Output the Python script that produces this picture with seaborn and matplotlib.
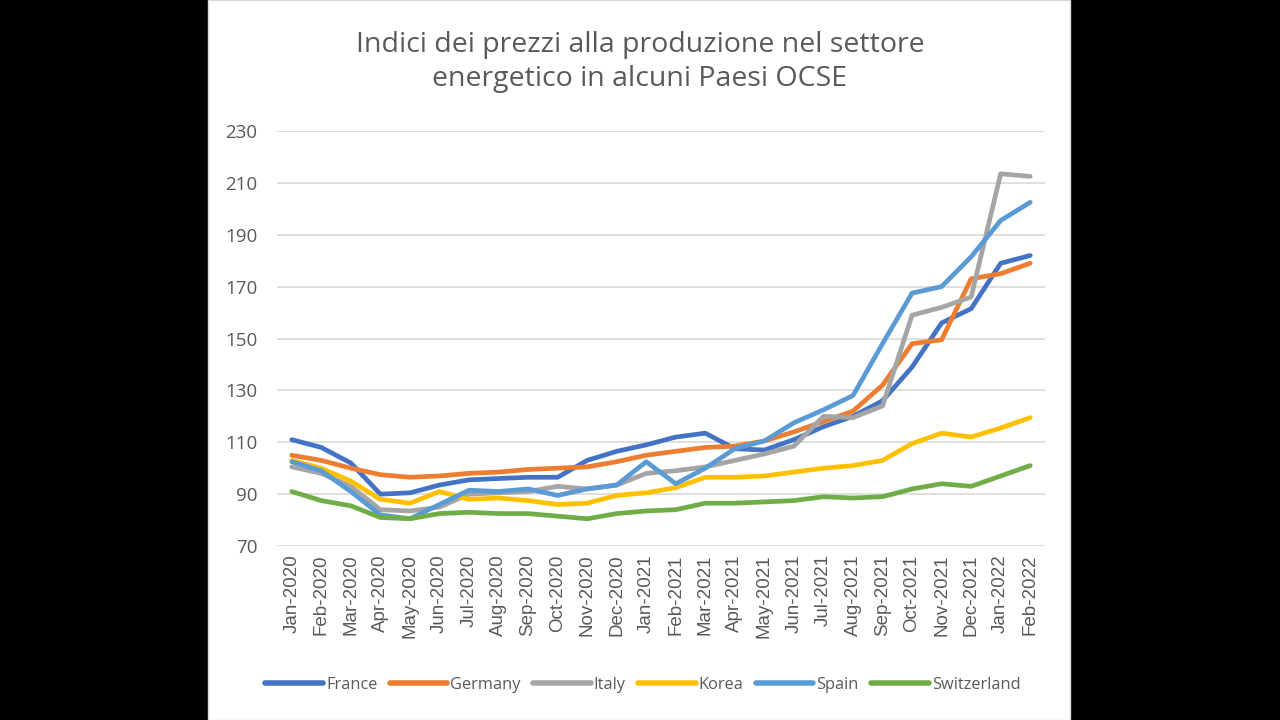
import pandas as pd
import seaborn as sns
import matplotlib.pyplot as plt
from matplotlib.patches import Rectangle

# Monthly labels
months = ['Jan-2020', 'Feb-2020', 'Mar-2020', 'Apr-2020', 'May-2020', 'Jun-2020',
          'Jul-2020', 'Aug-2020', 'Sep-2020', 'Oct-2020', 'Nov-2020', 'Dec-2020',
          'Jan-2021', 'Feb-2021', 'Mar-2021', 'Apr-2021', 'May-2021', 'Jun-2021',
          'Jul-2021', 'Aug-2021', 'Sep-2021', 'Oct-2021', 'Nov-2021', 'Dec-2021',
          'Jan-2022', 'Feb-2022']

# Values
france = [111, 108, 102, 90, 90.5, 93.5, 95.5, 96, 96.5, 96.5, 103, 106.5,
          109, 112, 113.5, 107.5, 107, 111, 116, 120, 126, 139, 156, 161.5, 179, 182]
germany = [105, 103, 100, 97.5, 96.5, 97, 98, 98.5, 99.5, 100, 100.5, 102.5,
           105, 106.5, 108, 108.5, 110.5, 114, 118, 122, 132, 148, 149.5, 173, 175, 179]
italy = [100.5, 98, 93, 84, 83.5, 85, 90, 90.5, 91, 93, 92, 93.5,
         98, 99, 100.5, 103, 105.5, 108.5, 120, 119.5, 124, 159, 162, 166, 213.5, 212.5]
korea = [103, 100, 95, 88, 86.5, 91, 88, 88.5, 87.5, 86, 86.5, 89.5,
         90.5, 92.5, 96.5, 96.5, 97, 98.5, 100, 101, 103, 109.5, 113.5, 112, 115.5, 119.5]
spain = [102.5, 99, 91, 82, 80.5, 86, 91.5, 91, 92, 89.5, 92, 93.5,
         102.5, 94, 100, 107.5, 110.5, 117.5, 122.5, 128, 148, 167.5, 170, 181.5, 195.5, 202.5]
switzerland = [91, 87.5, 85.5, 81, 80.5, 82.5, 83, 82.5, 82.5, 81.5, 80.5, 82.5,
               83.5, 84, 86.5, 86.5, 87, 87.5, 89, 88.5, 89, 92, 94, 93, 97, 101]

countries = ['France', 'Germany', 'Italy', 'Korea', 'Spain', 'Switzerland']
colors = ['#4472C4', '#ED7D31', '#A5A5A5', '#FFC000', '#5B9BD5', '#70AD47']

df = pd.DataFrame({'month': months, 'France': france, 'Germany': germany, 'Italy': italy,
                   'Korea': korea, 'Spain': spain, 'Switzerland': switzerland})
df['idx'] = range(len(months))
long_df = df.melt(id_vars=['month', 'idx'], value_vars=countries,
                  var_name='country', value_name='value')

sns.set_theme(style='white')
plt.rcParams['font.family'] = ['Open Sans', 'DejaVu Sans']

fig = plt.figure(figsize=(12.8, 7.2), dpi=100, facecolor='black')
# white chart panel behind the axes
fig.patches.append(Rectangle((208 / 1280, 0), (1070 - 208) / 1280, 1,
                             transform=fig.transFigure, facecolor='white',
                             edgecolor='#D9D9D9', linewidth=1, zorder=-5))

ax = fig.add_axes([277 / 1280, 1 - 546 / 720, (1045 - 277) / 1280, (546 - 131) / 720])
ax.set_facecolor('white')

sns.lineplot(data=long_df, x='idx', y='value', hue='country', hue_order=countries,
             palette=colors, linewidth=3.4, ax=ax, sort=False)

ax.set_xlim(-0.5, len(months) - 0.5)
ax.set_ylim(70, 230)
ax.set_yticks(range(70, 231, 20))
ax.set_xticks(range(len(months)))
ax.set_xticklabels(months, rotation=90, fontsize=13.5, color='#595959',
                   family=['Liberation Sans', 'DejaVu Sans'])
ax.tick_params(axis='y', labelsize=13.5, labelcolor='#595959', pad=14, length=0)
ax.tick_params(axis='x', pad=6, length=0)
ax.grid(axis='y', color='#D9D9D9', linewidth=1.2)
ax.set_axisbelow(True)
for s in ax.spines.values():
    s.set_visible(False)
ax.set_xlabel('')
ax.set_ylabel('')

fig.text(640 / 1280, 1 - 62 / 720,
         'Indici dei prezzi alla produzione nel settore\nenergetico in alcuni Paesi OCSE',
         ha='center', va='center', fontsize=20.5, color='#595959', linespacing=1.3)

handles, labels = ax.get_legend_handles_labels()
ax.legend_.remove()
leg = fig.legend(handles, labels, loc='center', bbox_to_anchor=(643 / 1280, 1 - 685 / 720),
                 ncol=6, frameon=False, fontsize=11.8, handlelength=3.5, columnspacing=0.75,
                 handletextpad=0.2, labelcolor='#595959')
for line in leg.get_lines():
    line.set_linewidth(4)

fig.savefig('out.png', dpi=100, facecolor='black')
